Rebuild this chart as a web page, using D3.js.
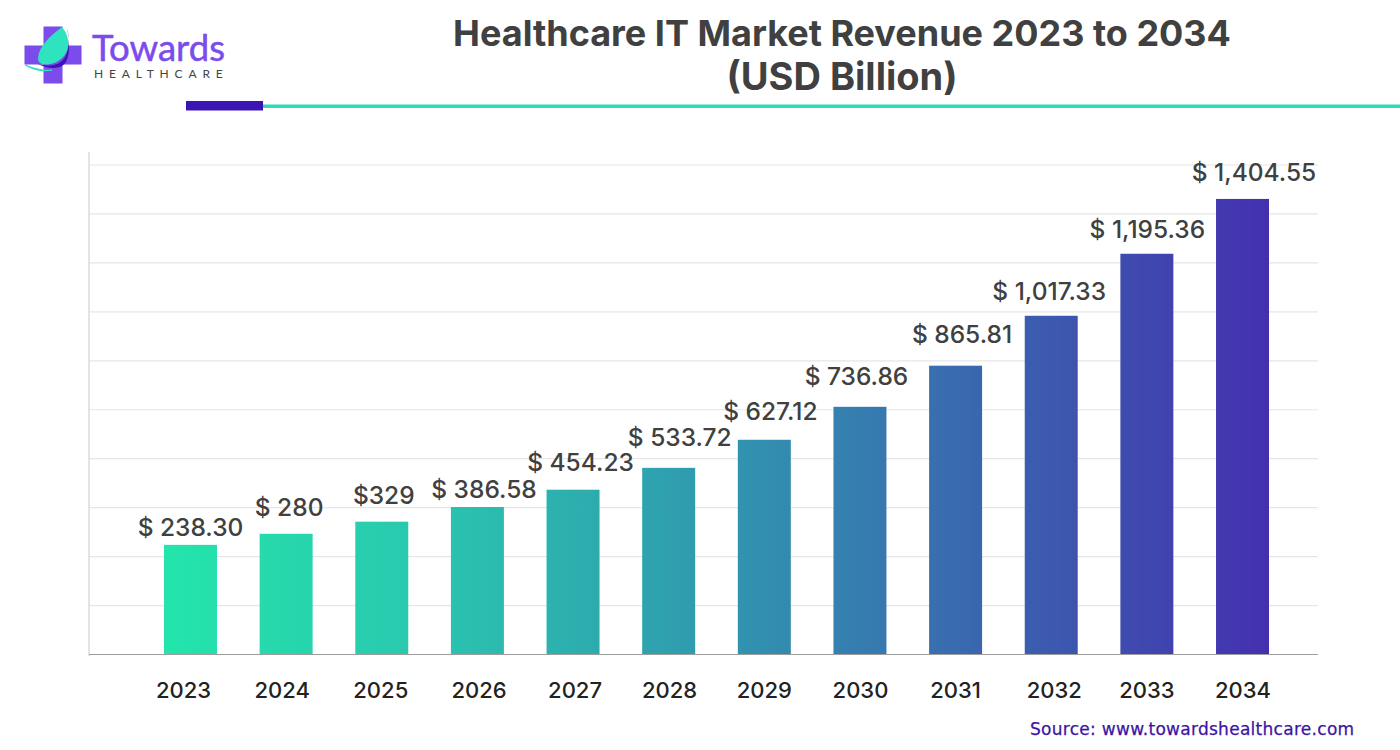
<!DOCTYPE html>
<html><head><meta charset="utf-8">
<script src="https://cdn.jsdelivr.net/npm/d3@7/dist/d3.min.js"></script>
<style>html,body{margin:0;padding:0;background:#fff}svg{display:block}text{font-family:Inter,sans-serif}</style>
</head><body><svg id="c" width="1400" height="750"></svg>
<script>
const years=["2023","2024","2025","2026","2027","2028","2029","2030","2031","2032","2033","2034"];
const revenueLabels=["$ 238.30","$ 280","$329","$ 386.58","$ 454.23","$ 533.72","$ 627.12","$ 736.86","$ 865.81","$ 1,017.33","$ 1,195.36","$ 1,404.55"];
// Bar heights as drawn in the picture, read against the unlabelled gridlines
const drawnBarValues=[336,370,407,452,505,572,658,759,885,1038,1228,1396];
const gridValues=[150,300,450,600,750,900,1050,1200,1350,1500];
const titleLines=["Healthcare IT Market Revenue 2023 to 2034","(USD Billion)"];
const titleSizes=[36,38];
const sourceText="Source: www.towardshealthcare.com";
// hand placement of the reference's labels relative to the bars
const tickNudge=[-7,-4,-1,1.6,2,0.8,0,0.5,0,3,0,0.5];
const labelNudge=[0,3,2,6.6,7.5,11,6,-3.5,6.4,-2,0.5,11.5];
const labelGap=[9,18,18,9,19,22,20,22,23,16,16,18];

const svg=d3.select("#c");
const L=89,R=1318,B=654.5,T=165;
const x=d3.scaleBand().domain(years).range([164,1269]).paddingInner(0.446);
const y=d3.scaleLinear().domain([0,1500]).range([B,T]);

const defs=svg.append("defs");
const g=defs.append("linearGradient").attr("id","barGrad").attr("gradientUnits","userSpaceOnUse")
  .attr("x1",164).attr("x2",1269).attr("y1",0).attr("y2",0);
g.append("stop").attr("offset",0).attr("stop-color","#23E5AB");
g.append("stop").attr("offset",0.2).attr("stop-color","#29CCAE");
g.append("stop").attr("offset",0.5).attr("stop-color","#3098AF");
g.append("stop").attr("offset",1).attr("stop-color","#4430AF");

// title
svg.append("g").selectAll("text").data(titleLines).join("text")
  .attr("x",842).attr("y",(d,i)=>46+i*44).attr("text-anchor","middle")
  .attr("font-size",(d,i)=>titleSizes[i]).attr("font-weight",700).attr("fill","#404040").text(d=>d);

// header rule
svg.append("rect").attr("x",263).attr("y",104.5).attr("width",1137).attr("height",3.5).attr("fill","#2FDDB5");
svg.append("rect").attr("x",186).attr("y",101).attr("width",77).attr("height",9.5).attr("fill","#3C14B4");

// logo
const logo=svg.append("g");
logo.append("path").attr("d","M43.5 26.5h19v19h19v19h-19v19h-19v-19h-19v-19h19z").attr("fill","#7B4BEB");
logo.append("path").attr("d","M44 65C52 67 61 64 65 57C69 50 70 38 67 28C69 38 71 52 66 62C62 69 50 70 38 64C40 64 42 65 44 65Z").attr("fill","#3C14B4");
logo.append("path").attr("d","M62 27C50 36 39 46 38 58C38 61 39 63 42 64C53 66 62 60 66 53C70 46 69 35 62 27Z").attr("fill","#2FE3BE");
logo.append("path").attr("d","M25 65C33 70 43 72 52 70C44 71 35 69 25 65Z").attr("fill","#2FE3BE").attr("stroke","#2FE3BE");
logo.append("text").attr("x",92).attr("y",61).attr("font-size",36.5).attr("fill","#7B4BEB").attr("stroke","#7B4BEB").attr("stroke-width",0.5).attr("style","font-family:Lato").text("Towards");
logo.append("text").attr("x",94).attr("y",78).attr("font-size",12).attr("letter-spacing",5.85).attr("fill","#444").attr("style","font-family:Lato").text("HEALTHCARE");

// grid
svg.append("g").selectAll("line").data(gridValues).join("line")
  .attr("x1",L).attr("x2",R).attr("y1",d=>y(d)).attr("y2",d=>y(d))
  .attr("stroke","#E6E6E6").attr("stroke-width",1.2);
svg.append("line").attr("x1",L).attr("x2",L).attr("y1",152).attr("y2",656).attr("stroke","#DDDDDD").attr("stroke-width",1.6);

// bars
svg.append("g").selectAll("rect").data(years).join("rect")
  .attr("x",d=>x(d)).attr("width",x.bandwidth())
  .attr("y",(d,i)=>y(drawnBarValues[i])).attr("height",(d,i)=>y(0)-y(drawnBarValues[i]))
  .attr("fill","url(#barGrad)");

// x axis
const ax=svg.append("g").attr("transform",`translate(0,${B})`).call(d3.axisBottom(x).tickSize(0).tickPadding(28));
ax.select(".domain").remove();
ax.append("line").attr("x1",L).attr("x2",R).attr("y1",0).attr("y2",0).attr("stroke","#9E9E9E").attr("stroke-width",1.2);
ax.selectAll(".tick text").attr("dx",(d,i)=>tickNudge[i]).attr("font-size",22).attr("font-weight",500).attr("fill","#222").style("font-family","Inter");

// value labels
svg.append("g").selectAll("text").data(years).join("text")
  .attr("x",(d,i)=>x(d)+x.bandwidth()/2+labelNudge[i])
  .attr("y",(d,i)=>y(drawnBarValues[i])-labelGap[i])
  .attr("text-anchor","middle").attr("font-size",24.5).attr("font-weight",500).attr("fill","#404040")
  .text((d,i)=>revenueLabels[i]);

// source
svg.append("text").attr("x",1030).attr("y",735).attr("font-size",17).attr("letter-spacing",0.28).attr("fill","#3C14A4").attr("stroke","#3C14A4").attr("stroke-width",0.25).attr("style","font-family:'DejaVu Sans'").text(sourceText);
</script></body></html>
